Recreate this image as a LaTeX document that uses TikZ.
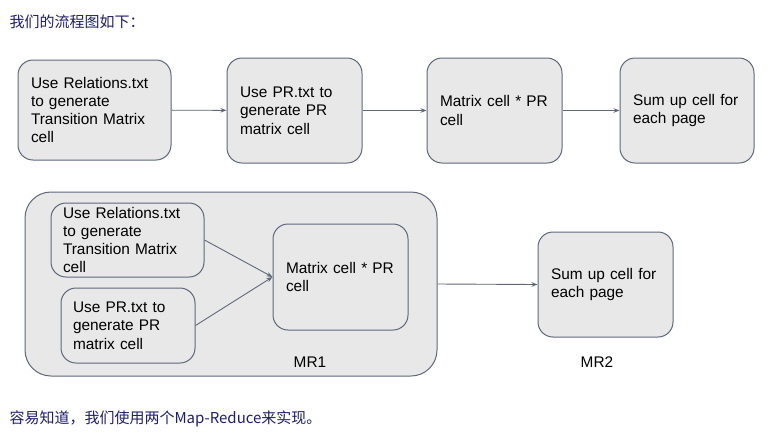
\documentclass[tikz,border=0pt]{standalone}
\usepackage{fontspec}
\setmainfont{Liberation Sans}
\newfontfamily\cjk{Noto Sans CJK SC}
\usetikzlibrary{arrows.meta,positioning}

\definecolor{boxline}{RGB}{95,104,122}
\definecolor{boxfill}{RGB}{232,232,232}
\definecolor{notetext}{RGB}{30,30,112}

\tikzset{
  stagebox/.style={rectangle,rounded corners=15pt,draw=boxline,fill=boxfill,line width=1pt,
    align=left,inner xsep=13pt,inner ysep=0pt,font=\fontsize{15.4}{18.3}\selectfont},
  groupbox/.style={rectangle,rounded corners=26pt,draw=boxline,fill=boxfill,line width=1pt},
  flow/.style={draw=boxline,line width=0.9pt,-{Stealth[length=6pt,width=4.5pt]}},
  notetxt/.style={anchor=west,text=notetext,font=\cjk\fontsize{15}{18}\selectfont},
  grouplabel/.style={font=\fontsize{15.4}{18}\selectfont}
}

\begin{document}
\begin{tikzpicture}[x=1pt,y=-1pt]
      \useasboundingbox[fill=white] (0,0) rectangle (769,437);
      % notes
      \node[notetxt] (intro) at (6,22) {我们的流程图如下：};
      \node[notetxt] (outro) at (6,419) {容易知道，我们使用两个Map-Reduce来实现。};

      % first row
      \node[stagebox,text width=127pt,minimum height=100pt] (relA) at (94.5,110) {Use Relations.txt\\to generate\\Transition Matrix\\cell};
      \node[stagebox,text width=109pt,minimum height=105pt] (prA) at (294.5,110.5) {Use PR.txt to\\generate PR\\matrix cell};
      \node[stagebox,text width=109pt,minimum height=105pt] (mulA) at (494.5,110.5) {Matrix cell * PR\\cell};
      \node[stagebox,text width=108pt,minimum height=105pt] (sumA) at (687,110.5) {Sum up cell for\\each page};

      \draw[flow] (relA) -- (prA);
      \draw[flow] (prA) -- (mulA);
      \draw[flow] (mulA) -- (sumA);

      % second row: MR1 group
      \node[groupbox,minimum width=412pt,minimum height=184pt] (mrOne) at (231,284) {};
      \node[stagebox,inner xsep=12pt,text width=129pt,minimum height=74pt] (relB) at (127.5,240) {Use Relations.txt\\to generate\\Transition Matrix\\cell};
      \node[stagebox,inner xsep=12pt,text width=110pt,minimum height=75pt] (prB) at (128,325.5) {Use PR.txt to\\generate PR\\matrix cell};
      \node[stagebox,inner xsep=13pt,text width=109pt,minimum height=106pt] (mulB) at (340.5,277) {Matrix cell * PR\\cell};
      \node[grouplabel] (mrOneLbl) at (310,362) {MR1};

      \draw[flow] (relB.east) -- (mulB.west);
      \draw[flow] (prB.east) -- (mulB.west);

      % MR2
      \node[stagebox,inner xsep=13pt,text width=109pt,minimum height=105pt] (sumB) at (605.5,284.5) {Sum up cell for\\each page};
      \node[grouplabel] (mrTwoLbl) at (597,362) {MR2};

      \draw[flow] (mrOne.east) -- (sumB.west);
\end{tikzpicture}
\end{document}
